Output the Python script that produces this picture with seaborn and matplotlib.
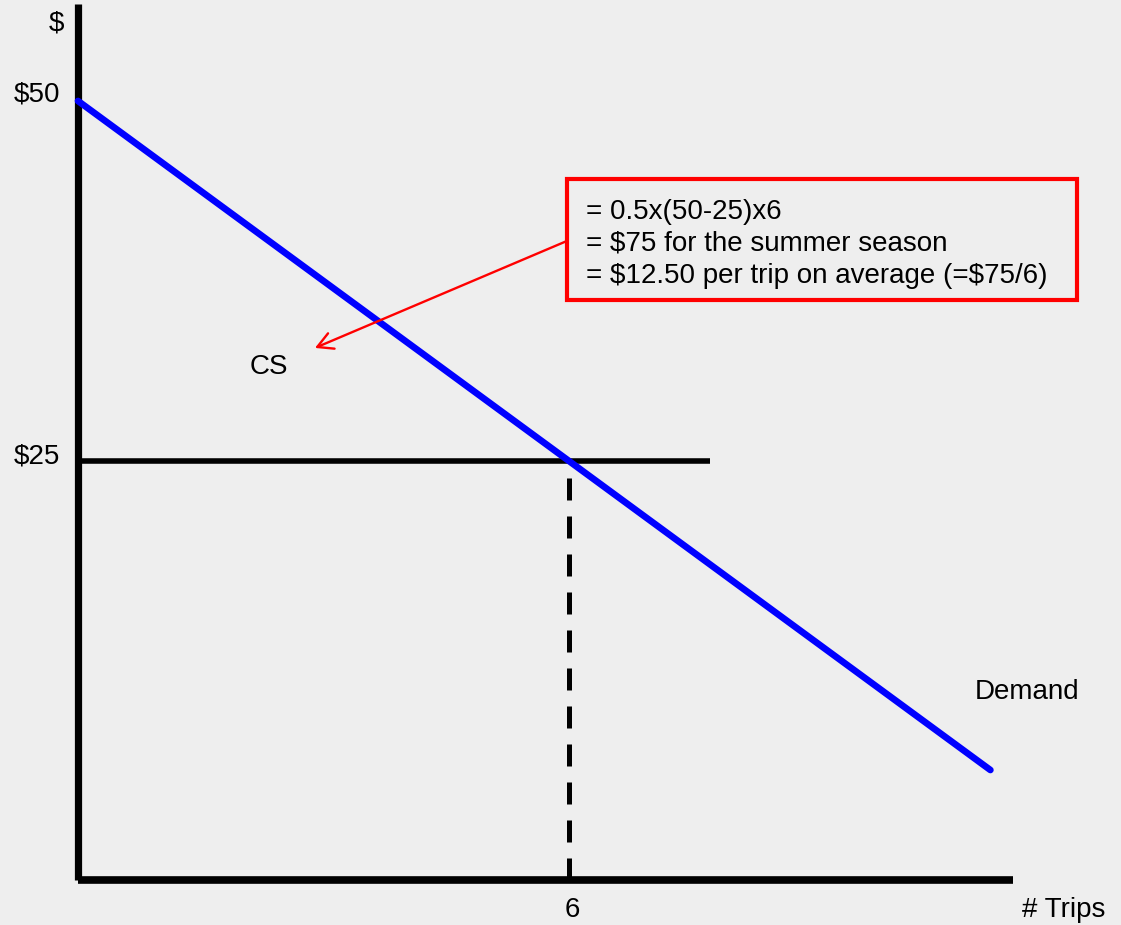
import matplotlib
matplotlib.use("Agg")
import matplotlib.pyplot as plt
from matplotlib.patches import Rectangle, FancyArrowPatch
import numpy as np
import pandas as pd
import seaborn as sns

# Demand schedule and equilibrium values
choke_price = 50
market_price = 25
trips = 6
demand_end_q = 11.15
price_ticks = ["$50", "$25"]
qty_tick = "6"
box_lines = [
    "= 0.5x(50-25)x6",
    "= $75 for the summer season",
    "= $12.50 per trip on average (=$75/6)",
]

slope = (choke_price - market_price) / trips
demand = pd.DataFrame({
    "q": [0, demand_end_q],
    "p": [choke_price, choke_price - slope * demand_end_q],
})

sns.set_style("white")
plt.rcParams["font.family"] = ["Liberation Sans", "DejaVu Sans"]
plt.rcParams["text.parse_math"] = False
plt.rcParams["text.color"] = "black"
bg = "#eeeeee"

fig = plt.figure(figsize=(11.21, 9.25), dpi=100, facecolor=bg)
ax = fig.add_axes([0, 0, 1, 1])
ax.set_facecolor(bg)
ax.set_xlim(-0.953, 12.746)
ax.set_ylim(-7.22, 57.01)
ax.axis("off")

# axes drawn as thick lines
y_floor = -4.1
ax.plot([0, 0], [y_floor, 56.7], color="black", lw=5.2, solid_capstyle="butt", zorder=3)
ax.plot([0, 11.43], [y_floor, y_floor], color="black", lw=5.5, solid_capstyle="butt", zorder=3)

# price line and quantity drop line
ax.plot([0, 7.72], [market_price, market_price], color="black", lw=4, solid_capstyle="butt", zorder=2)
ax.plot([trips, trips], [y_floor, market_price], color="black", lw=3.6,
        dashes=(4.4, 3.2), solid_capstyle="butt", dash_capstyle="butt", zorder=2)

# demand curve
sns.lineplot(data=demand, x="q", y="p", ax=ax, color="#0000ff", lw=4.8, zorder=4)
ax.set_xlabel("")
ax.set_ylabel("")

fs = 20
kw = dict(fontsize=fs, color="black")
dy = -0.12
ax.text(-0.257, 55.49 + dy, "$", ha="center", va="center", **kw)
ax.text(-0.22, 50.6 + dy, price_ticks[0], ha="right", va="center", **kw)
ax.text(-0.22, 25.4 + dy, price_ticks[1], ha="right", va="center", **kw)
ax.text(trips + 0.04, -6.04 + dy, qty_tick, ha="center", va="center", **kw)
ax.text(11.54, -6.04 + dy, "# Trips", ha="left", va="center", **kw)
ax.text(2.10, 31.67 + dy, "CS", ha="left", va="center", **kw)
ax.text(10.96, 9.1 + dy, "Demand", ha="left", va="center", **kw)

# consumer surplus note
ax.add_patch(Rectangle((5.976, 36.18), 12.21 - 5.976, 44.58 - 36.18,
                       facecolor="none", edgecolor="red", lw=3, zorder=5))
for i, line in enumerate(box_lines):
    ax.text(6.21, 42.43 - 2.22 * i + dy, line, ha="left", va="center", zorder=6, **kw)

arrow = FancyArrowPatch((5.976, 40.28), (2.896, 32.85), arrowstyle="->,head_length=11,head_width=6",
                        color="red", lw=1.7, shrinkA=0, shrinkB=0, zorder=5)
ax.add_patch(arrow)

fig.savefig("out.png", dpi=100, facecolor=bg)
